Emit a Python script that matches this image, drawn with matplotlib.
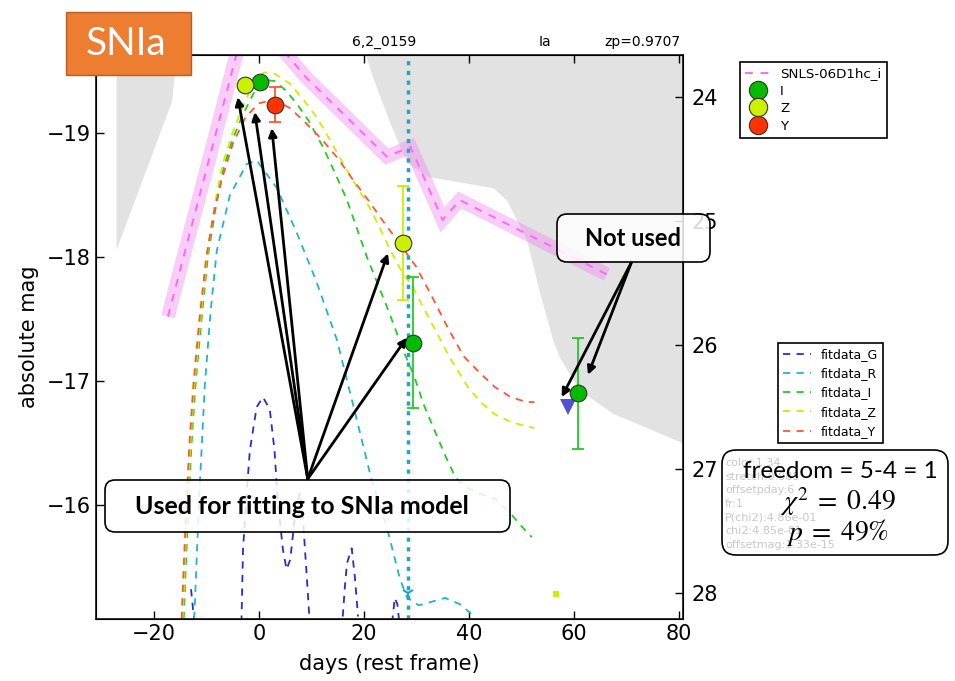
import numpy as np
import matplotlib
matplotlib.use('Agg')
import matplotlib.pyplot as plt
from matplotlib.patches import FancyBboxPatch, Rectangle

plt.rcParams['mathtext.fontset'] = 'stix'

# absolute mag -> apparent mag
dist_mod = 43.29
epoch_day = 28.4

# SNLS-06D1hc_i template (band drawn as a thick translucent line)
tmpl_days = [-17.3, -2.0, 9.0, 24.4, 28.9, 35.0, 38.3, 66.3]
tmpl_mags = [-17.52, -20.0, -19.45, -18.81, -18.89, -18.30, -18.46, -17.86]

# detection-limit shading
lim_left_days = [-27.2, -16.6, -15.3]
lim_left_mags = [-18.06, -19.26, -19.8]
lim_right_days = [20.2, 21.7, 25.0, 28.2, 32.2, 44.6, 47.2, 51.0, 53.5, 56.0, 57.3, 61.0, 67.4, 80.8]
lim_right_mags = [-19.65, -19.45, -19.08, -18.76, -18.65, -18.56, -18.46, -18.14, -17.71, -17.33, -17.19, -16.93, -16.74, -16.50]

# model fits per filter
fit_y_days = [-14.7, -14.3, -13.8, -13.2, -12.4, -11.3, -10.0, -8.6, -7.1, -4.9, -2.5, 0, 3, 6, 9, 12, 15, 18, 21, 24,
              27, 30, 33, 36, 39, 42, 45, 48, 51, 52.5]
fit_y_mags = [-15.08, -15.5, -16.0, -16.5, -17.0, -17.5, -18.0, -18.35, -18.62, -18.92, -19.13, -19.24, -19.27, -19.2,
              -19.08, -18.95, -18.8, -18.62, -18.45, -18.27, -18.1, -17.92, -17.68, -17.43, -17.2, -17.07, -16.95,
              -16.87, -16.83, -16.83]
fit_i_days = [-14.3, -13.9, -13.4, -12.8, -12.0, -10.9, -9.7, -8.2, -6.7, -5.0, -3, -1, 1, 3, 5, 7.2, 9.5, 12.2, 14.5,
              16.8, 18.7, 20.6, 22.5, 24.4, 26, 27.5, 29.5, 31.5, 33.5, 35.6, 37.5, 39.2, 42, 45, 48, 50, 52]
fit_i_mags = [-15.08, -15.5, -16.0, -16.5, -17.0, -17.5, -18.0, -18.4, -18.72, -18.95, -19.15, -19.32, -19.43, -19.42,
              -19.35, -19.24, -19.1, -18.89, -18.68, -18.46, -18.23, -18.0, -17.8, -17.6, -17.42, -17.25, -17.05,
              -16.8, -16.6, -16.39, -16.22, -16.15, -16.09, -16.05, -15.93, -15.83, -15.74]
fit_z_days = [-14.5, -14.1, -13.6, -13.0, -12.2, -11.1, -9.9, -8.4, -6.9, -5, -3, -1, 1, 3, 5.9, 8.5, 11, 13.5, 16,
              18.5, 21.1, 23, 25, 27, 29.3, 31.5, 33.9, 36.5, 40, 42.5, 45, 48, 50.5, 52.5]
fit_z_mags = [-15.08, -15.5, -16.0, -16.5, -17.0, -17.5, -18.0, -18.42, -18.75, -19.0, -19.22, -19.4, -19.49, -19.48,
              -19.4, -19.27, -19.13, -18.95, -18.76, -18.58, -18.4, -18.24, -18.06, -17.9, -17.76, -17.58, -17.39,
              -17.18, -16.94, -16.82, -16.73, -16.67, -16.64, -16.62]
fit_r_days = [-12.3, -11.3, -10.3, -9.2, -8.0, -5.5, -2.3, -0.4, 3.4, 7.2, 11, 14.9, 18.6, 21.5, 24.4, 26.9, 28.3,
              30.5, 33, 35.5, 38.3, 40.5, 41.8]
fit_r_mags = [-15.08, -16.1, -16.95, -17.55, -18.05, -18.5, -18.75, -18.78, -18.56, -18.2, -17.8, -17.33, -16.7,
              -16.2, -15.82, -15.4, -15.25, -15.19, -15.22, -15.25, -15.2, -15.12, -15.0]
fit_g_days = [-12.9, -12.5, -12.1, np.nan,
              -3.3, -3.0, -2.3, -1.7, -0.4, 0.8, 2.1, 3.0, 3.6, 4.6, 5.3, 6.0, 7.0, 7.8, 8.4, 9.1, 9.7, np.nan,
              16.0, 16.4, 16.8, 17.7, 18.3, 18.9, np.nan,
              25.4, 25.9, 26.4, 26.9]
fit_g_mags = [-15.32, -15.15, -15.0, np.nan,
              -15.05, -15.64, -16.1, -16.44, -16.79, -16.87, -16.77, -16.44, -16.04, -15.64, -15.48, -15.56, -15.95,
              -16.1, -15.9, -15.45, -15.05, np.nan,
              -15.1, -15.34, -15.53, -15.65, -15.42, -15.1, np.nan,
              -15.05, -15.25, -15.2, -15.0]

# photometry
i_days = [0.2, 29.3, 60.8]
i_mags = [-19.41, -17.31, -16.90]
i_err = [0.03, 0.53, 0.45]
z_days = [-2.7, 27.4]
z_mags = [-19.39, -18.11]
z_err = [0.03, 0.46]
y_days = [3.0]
y_mags = [-19.23]
y_err = [0.14]
g_lim_day, g_lim_mag = 58.9, -16.79
r_lim_day, r_lim_mag = 28.4, -15.29
z_extra_day, z_extra_mag = 56.6, -15.28

# annotation arrows (day, mag)
used_from = (9.33, -16.21)
used_to = [(-4.0, -19.29), (-0.76, -19.17), (2.48, -19.04), (24.6, -18.03), (28.2, -17.35)]
unused_from = (71.0, -17.96)
unused_to = [(57.7, -16.87), (62.7, -17.05)]

c_g, c_r, c_i, c_z, c_y = '#2b2bd0', '#1fb5cc', '#22cc22', '#ccee00', '#ff5533'
c_tmpl = '#ff66ff'

W, H = 955, 681
fig = plt.figure(figsize=(W / 100, H / 100), dpi=100)
ax = fig.add_axes([96 / W, 1 - 619 / H, 587 / W, 564 / H])

ax.fill_between(lim_left_days, lim_left_mags, -19.8, color='#e2e2e2', lw=0, zorder=0)
ax.fill_between(lim_right_days, lim_right_mags, -19.8, color='#e2e2e2', lw=0, zorder=0)

ax.plot(tmpl_days, tmpl_mags, color='violet', alpha=0.4, lw=10, solid_capstyle='butt',
        solid_joinstyle='miter', zorder=1)
tmpl_line, = ax.plot(tmpl_days, tmpl_mags, color=c_tmpl, lw=1.4, dashes=(4, 4), zorder=2,
                     label='SNLS-06D1hc_i')

fit_lines = []
for d, m, c, name in [(fit_g_days, fit_g_mags, c_g, 'fitdata_G'),
                      (fit_r_days, fit_r_mags, c_r, 'fitdata_R'),
                      (fit_i_days, fit_i_mags, c_i, 'fitdata_I'),
                      (fit_z_days, fit_z_mags, c_z, 'fitdata_Z'),
                      (fit_y_days, fit_y_mags, c_y, 'fitdata_Y')]:
    ln, = ax.plot(d, m, color=c, lw=1.3, dashes=(4, 3.5), label=name, zorder=2)
    fit_lines.append(ln)

ax.axvline(epoch_day, color='#17aac6', lw=2.5, dashes=(1.2, 1.6), zorder=2)
ax.plot(r_lim_day, r_lim_mag, marker='1', color='#17aac6', ms=9, mew=1.5, zorder=3)
ax.plot(z_extra_day, z_extra_mag, marker='s', color=c_z, ms=4, mew=0, zorder=3)
ax.plot(g_lim_day, g_lim_mag, marker='v', color='#3333cc', alpha=0.85, ms=11, mew=0, zorder=3)

pts = []
for d, m, e, fc, ec, name in [(i_days, i_mags, i_err, '#00bb00', c_i, 'I'),
                              (z_days, z_mags, z_err, '#ccf000', c_z, 'Z'),
                              (y_days, y_mags, y_err, '#ff3300', c_y, 'Y')]:
    ax.errorbar(d, m, yerr=e, fmt='none', ecolor=ec, elinewidth=1.3, capsize=4, capthick=1.3, zorder=3)
    p, = ax.plot(d, m, 'o', ms=12, mfc=fc, mec='#333333', mew=0.8, ls='none', label=name, zorder=4)
    pts.append(p)

arrow_kw = dict(arrowstyle='-|>', color='black', lw=2, mutation_scale=12, shrinkA=0, shrinkB=0)
for tgt in used_to:
    ax.annotate('', xy=tgt, xytext=used_from, arrowprops=arrow_kw, zorder=5)
for tgt in unused_to:
    ax.annotate('', xy=tgt, xytext=unused_from, arrowprops=arrow_kw, zorder=5)

ax.set_xlim(-31.0, 80.8)
ax.set_ylim(-15.08, -19.63)
ax.set_xticks([-20, 0, 20, 40, 60, 80])
ax.set_yticks([-19, -18, -17, -16])
ax.tick_params(direction='in', length=6, width=1, labelsize=15, top=True, right=False)
ax.set_xlabel('days (rest frame)', fontsize=15, labelpad=7)
ax.set_ylabel('absolute mag', fontsize=15, labelpad=6)
for s in ax.spines.values():
    s.set_linewidth(1.3)
    s.set_color('#222222')

ax2 = ax.twinx()
ax2.set_ylim(-15.08 + dist_mod, -19.63 + dist_mod)
ax2.set_yticks([24, 25, 26, 27, 28])
ax2.tick_params(direction='in', length=6, width=1, labelsize=15, pad=6)

ax.text(0.49, 1.01, '6,2_0159', transform=ax.transAxes, ha='center', va='bottom', fontsize=10)
ax.text(0.765, 1.01, 'Ia', transform=ax.transAxes, ha='center', va='bottom', fontsize=10)
ax.text(0.995, 1.01, 'zp=0.9707', transform=ax.transAxes, ha='right', va='bottom', fontsize=10)

leg1 = fig.legend(handles=[tmpl_line] + pts, loc='upper left', bbox_to_anchor=(740 / W, 1 - 62 / H),
                  fontsize=9.6, numpoints=1, markerscale=1.1, fancybox=False, edgecolor='black', framealpha=1,
                  labelspacing=0.33, handlelength=1.9, handletextpad=0.7, borderpad=0.4, borderaxespad=0)
leg1.get_frame().set_linewidth(1.2)
leg2 = fig.legend(handles=fit_lines, loc='upper left', bbox_to_anchor=(778 / W, 1 - 343 / H),
                  fontsize=9, fancybox=False, edgecolor='black', framealpha=1,
                  labelspacing=0.5, handlelength=2.2, handletextpad=0.8, borderpad=0.4, borderaxespad=0)
leg2.get_frame().set_linewidth(1.2)


def px_box(x0, y0, x1, y1):
    # pixel box (top-left origin) -> inches from bottom-left
    return x0 / 100, (H - y1) / 100, (x1 - x0) / 100, (y1 - y0) / 100


def fig_xy(x, y):
    return x / W, 1 - y / H


# SNIa tag
x0, y0, w, h = px_box(66, 12, 191, 75)
fig.add_artist(Rectangle((x0, y0), w, h, transform=fig.dpi_scale_trans, fc='#ed7d31', ec='#b85e24',
                         lw=1, zorder=6))
fig.text(*fig_xy(126, 44), 'SNIa', color='white', fontsize=28, family='Lato', ha='center', va='center',
         zorder=7)

# callout boxes
for (bx0, by0, bx1, by1), label, size, cx, cy in [((105, 480, 510, 532), 'Used for fitting to SNIa model', 18, 302, 506),
                                                  ((557, 214, 710, 262), 'Not used', 17, 633, 238)]:
    x0, y0, w, h = px_box(bx0, by0, bx1, by1)
    fig.add_artist(FancyBboxPatch((x0, y0), w, h, boxstyle='round,pad=0,rounding_size=0.1',
                                  transform=fig.dpi_scale_trans, fc=(1, 1, 1, 0.85), ec='black', lw=1.2,
                                  zorder=6))
    fig.text(*fig_xy(cx, cy), label, fontsize=size, family='Lato', weight='bold', ha='center', va='center',
             zorder=7)

# fit statistics box
x0, y0, w, h = px_box(722, 450, 948, 555)
fig.add_artist(FancyBboxPatch((x0, y0), w, h, boxstyle='round,pad=0,rounding_size=0.14',
                              transform=fig.dpi_scale_trans, fc='white', ec='black', lw=1.2, zorder=6))
stats_lines = ['color:1.34', 'stretch:0.985', 'offsetpday:6', 'fr:1', 'P(chi2):4.86e-01', 'chi2:4.85e-01',
               'offsetmag:1.33e-15']
for k, s in enumerate(stats_lines):
    fig.text(*fig_xy(725, 463 + 13.7 * k), s, fontsize=8, color='#c8c8c8', ha='left', va='center', zorder=7)
fig.text(*fig_xy(840, 471), 'freedom = 5-4 = 1', fontsize=17.5, family='Lato', ha='center', va='center', zorder=8)
fig.text(*fig_xy(838, 502), r'$\chi^2\;=\;0.49$', fontsize=20, ha='center', va='center', zorder=8)
fig.text(*fig_xy(838, 532), r'$p\;=\;49\%$', fontsize=20, ha='center', va='center', zorder=8)

fig.savefig('out.png', dpi=100)
